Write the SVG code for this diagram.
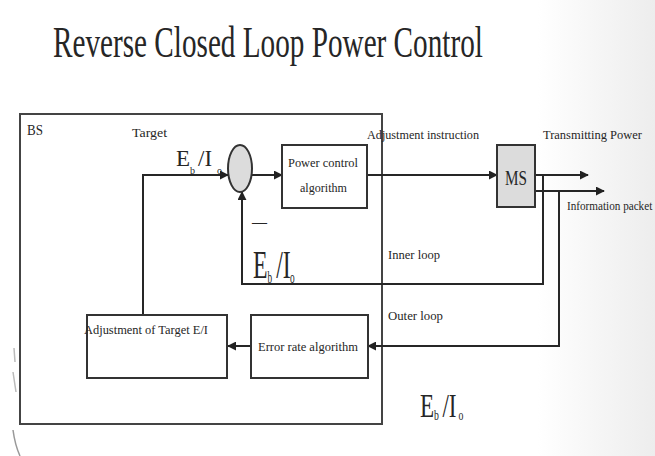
<svg xmlns="http://www.w3.org/2000/svg" width="655" height="456" viewBox="0 0 655 456">
<defs>
<linearGradient id="bg" x1="0" y1="0" x2="1" y2="0">
<stop offset="0" stop-color="#ffffff"/>
<stop offset="0.82" stop-color="#ffffff"/>
<stop offset="1" stop-color="#ededed"/>
</linearGradient>
<marker id="ah" viewBox="0 0 10 10" refX="9" refY="5" markerWidth="9" markerHeight="9" markerUnits="userSpaceOnUse" orient="auto">
<path d="M0,0 L10,5 L0,10 Z" fill="#222"/>
</marker>
<style>
text{font-family:"Liberation Serif","Times New Roman",serif;fill:#262626}
.box{fill:#fff;stroke:#333;stroke-width:2}
.gray{fill:#dcdcdc;stroke:#333;stroke-width:2}
.ln{fill:none;stroke:#262626;stroke-width:2}
.arr{fill:none;stroke:#262626;stroke-width:2;marker-end:url(#ah)}
.sm{font-size:13px}
.bx{font-size:12px}
</style>
</defs>
<rect x="0" y="0" width="655" height="456" fill="url(#bg)"/>
<g transform="translate(53,57) scale(0.664,1)">
<text x="0" y="0" font-size="44" fill="#333">Reverse Closed Loop Power Control</text>
</g>

<g id="bs">
<rect x="20" y="114" width="362" height="310" fill="none" stroke="#444" stroke-width="2"/>
<text x="27" y="135" font-size="15" textLength="16" lengthAdjust="spacingAndGlyphs">BS</text>
</g>

<g id="connectors">
<polyline class="arr" points="143,315 143,175 228,175"/>
<line class="arr" x1="252" y1="175" x2="282" y2="175"/>
<line class="arr" x1="367" y1="175" x2="497" y2="175"/>
<line class="arr" x1="535" y1="175" x2="588" y2="175"/>
<line class="arr" x1="535" y1="191" x2="604" y2="191"/>
<polyline class="arr" points="543,175 543,284 242,284 242,192"/>
<polyline class="arr" points="559,191 559,346 368,346"/>
<line class="arr" x1="251" y1="346" x2="228" y2="346"/>
</g>

<g id="sum">
<ellipse cx="240" cy="168.5" rx="12" ry="23.5" class="gray"/>
</g>

<g id="power-control">
<rect x="282" y="145" width="85" height="63" class="box"/>
<text x="288" y="167" class="bx" textLength="70" lengthAdjust="spacingAndGlyphs">Power control</text>
<text x="300" y="192" class="bx" textLength="47" lengthAdjust="spacingAndGlyphs">algorithm</text>
</g>

<g id="ms">
<rect x="497" y="145" width="38" height="62" class="gray"/>
<text x="505" y="185" font-size="22" textLength="22" lengthAdjust="spacingAndGlyphs">MS</text>
</g>

<g id="adjust-target">
<rect x="87" y="315" width="140" height="63" class="box"/>
<text x="84" y="334" class="bx" textLength="124" lengthAdjust="spacingAndGlyphs">Adjustment of Target E/I</text>
</g>

<g id="error-rate">
<rect x="251" y="315" width="117" height="63" class="box"/>
<text x="258" y="351" class="bx" textLength="100" lengthAdjust="spacingAndGlyphs">Error rate algorithm</text>
</g>

<g id="labels">
<text x="132" y="137" class="sm" textLength="35" lengthAdjust="spacingAndGlyphs">Target</text>
<text x="367" y="139" class="sm" textLength="112" lengthAdjust="spacingAndGlyphs">Adjustment instruction</text>
<text x="543" y="139" class="sm" textLength="99" lengthAdjust="spacingAndGlyphs">Transmitting Power</text>
<g transform="translate(567,210) scale(0.86,1)"><text x="0" y="0" class="sm">Information packet</text></g>
<text x="388" y="259" class="sm" textLength="52" lengthAdjust="spacingAndGlyphs">Inner loop</text>
<text x="388" y="320" class="sm" textLength="55" lengthAdjust="spacingAndGlyphs">Outer loop</text>
<text x="252" y="227" font-size="16" textLength="15" lengthAdjust="spacingAndGlyphs">—</text>
</g>

<g id="eb1">
<text x="176" y="166" font-size="23">E</text>
<text x="190" y="174" font-size="10">b</text>
<text x="198" y="166" font-size="23">/I</text>
<text x="217" y="174" font-size="10">o</text>
</g>
<g id="eb2" transform="translate(253,278) scale(0.58,1)">
<text x="0" y="0" font-size="41">E</text>
<text x="25" y="5" font-size="16">b</text>
<text x="40" y="0" font-size="41">/I</text>
<text x="64" y="5" font-size="16">o</text>
</g>
<g id="eb3" transform="translate(420,417) scale(0.7,1)">
<text x="0" y="0" font-size="33">E</text>
<text x="20" y="3" font-size="14">b</text>
<text x="32" y="0" font-size="33">/I</text>
<text x="55" y="3" font-size="14">o</text>
</g>

<path d="M13,430 Q15,445 20,456" fill="none" stroke="#999" stroke-width="1.5"/>
<path d="M14,348 L15,362 M13,372 L16,392" fill="none" stroke="#bbb" stroke-width="1.5"/>
</svg>
